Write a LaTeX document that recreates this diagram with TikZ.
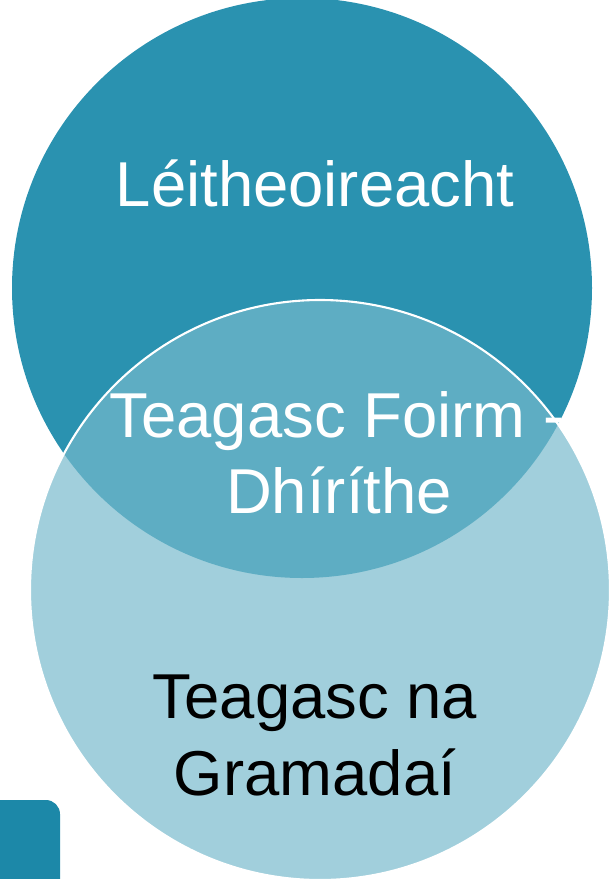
\documentclass[tikz,border=0pt]{standalone}
\usepackage{fontspec}
\setmainfont{Liberation Sans}
\definecolor{topteal}{HTML}{2A92B0}
\definecolor{midteal}{HTML}{5EADC3}
\definecolor{lowteal}{HTML}{A1CFDC}
\definecolor{cornerteal}{HTML}{1C88A8}
\begin{document}
\begin{tikzpicture}[line cap=round,line join=round,x=0.02cm,y=0.02cm,
  blurb/.style={font=\fontsize{36.1}{43.6}\selectfont,inner sep=0pt,anchor=base}]
		\useasboundingbox (0,0) rectangle (615,-879);
		\clip (0,0) rectangle (615,-879);
		% the two circles and their overlap
		\fill [topteal] (302,-288) circle (290);
		\fill [lowteal] (320,-590) circle (290);
		\begin{scope}
		\clip (320,-590) circle (290);
		\fill [midteal] (302,-288) circle (290);
		\end{scope}
		\draw [white,line width=1.2pt] (320,-590) circle (290);
		% corner tab
		\fill [cornerteal,rounded corners=8pt] (-30,-800) rectangle (60,-920);
		% texts
		\node[blurb,text=white] (reading) at (315,-206) {Léitheoireacht};
		\node[blurb,text=white] (formA) at (337,-437) {Teagasc Foirm -};
		\node[blurb,text=white] (formB) at (339,-513) {Dhíríthe};
		\node[blurb,text=black] (grammarA) at (315,-718) {Teagasc na};
		\node[blurb,text=black] (grammarB) at (315,-795) {Gramadaí};
\end{tikzpicture}
\end{document}
